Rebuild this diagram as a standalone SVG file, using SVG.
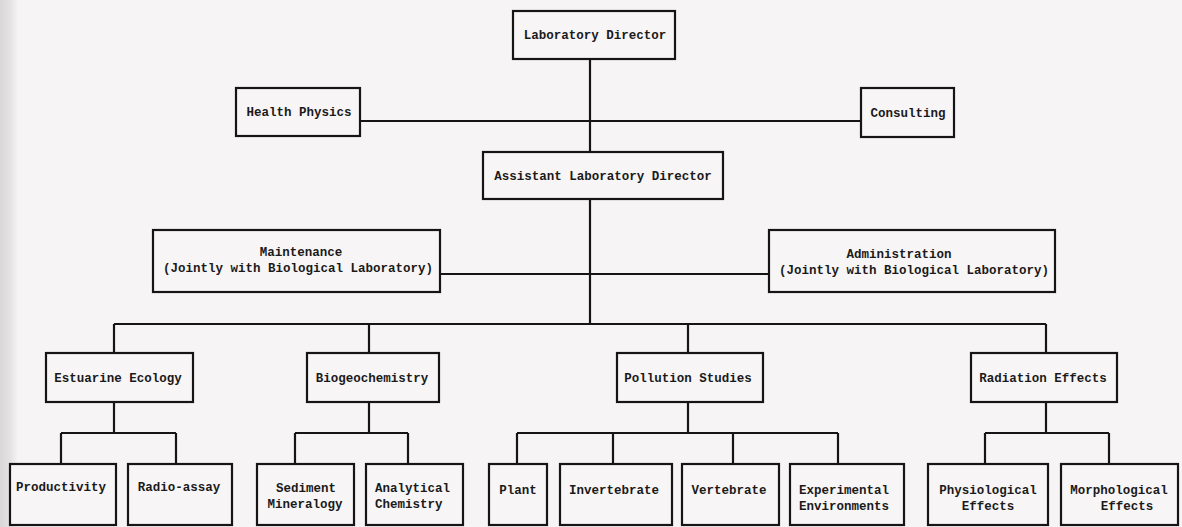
<svg xmlns="http://www.w3.org/2000/svg" width="1182" height="527" viewBox="0 0 1182 527">
<defs>
<linearGradient id="edge" x1="0" y1="0" x2="1" y2="0">
<stop offset="0" stop-color="#d9d7d8"/>
<stop offset="0.6" stop-color="#e6e3e4"/>
<stop offset="1" stop-color="#f7f4f5"/>
</linearGradient>
<style>
.box{fill:#f8f5f6;stroke:#151515;stroke-width:2.2}
.ln{fill:none;stroke:#151515;stroke-width:2.2}
text{font-family:"Liberation Mono","DejaVu Sans Mono",monospace;font-weight:bold;font-size:12.5px;fill:#1a1a1a}
.c{text-anchor:middle}
</style>
</defs>
<rect x="0" y="0" width="1182" height="527" fill="#f7f4f5"/>
<rect x="0" y="0" width="18" height="527" fill="url(#edge)"/>

<g id="connectors">
<path class="ln" d="M590 59 V152 M590 199 V324"/>
<path class="ln" d="M360 121 H861"/>
<path class="ln" d="M440 274 H769"/>
<path class="ln" d="M114 324 H1046 M114 324 V353 M369 324 V353 M688 324 V353 M1046 324 V353"/>
<path class="ln" d="M114 402 V433 M61 433 H176 M61 433 V464 M176 433 V464"/>
<path class="ln" d="M369 402 V433 M295 433 H408 M295 433 V464 M408 433 V464"/>
<path class="ln" d="M688 402 V433 M517 433 H838 M517 433 V464 M613 433 V464 M733 433 V464 M838 433 V464"/>
<path class="ln" d="M1046 402 V433 M985 433 H1109 M985 433 V464 M1109 433 V464"/>
</g>

<g id="lab-director"><rect class="box" x="513" y="11" width="162" height="48"/><text class="c" x="595" y="39">Laboratory Director</text></g>
<g id="health-physics"><rect class="box" x="236" y="88" width="124" height="48"/><text class="c" x="299" y="116">Health Physics</text></g>
<g id="consulting"><rect class="box" x="861" y="88" width="93" height="49"/><text class="c" x="908" y="117">Consulting</text></g>
<g id="assistant-director"><rect class="box" x="483" y="152" width="240" height="47"/><text class="c" x="603" y="180">Assistant Laboratory Director</text></g>
<g id="maintenance"><rect class="box" x="153" y="230" width="287" height="62"/><text class="c" x="301" y="256">Maintenance</text><text class="c" x="298" y="272">(Jointly with Biological Laboratory)</text></g>
<g id="administration"><rect class="box" x="769" y="230" width="286" height="62"/><text class="c" x="899" y="258">Administration</text><text class="c" x="914" y="274">(Jointly with Biological Laboratory)</text></g>

<g id="estuarine-ecology"><rect class="box" x="46" y="353" width="147" height="49"/><text class="c" x="118" y="382">Estuarine Ecology</text></g>
<g id="biogeochemistry"><rect class="box" x="307" y="353" width="132" height="49"/><text class="c" x="372" y="382">Biogeochemistry</text></g>
<g id="pollution-studies"><rect class="box" x="617" y="353" width="146" height="49"/><text class="c" x="688" y="382">Pollution Studies</text></g>
<g id="radiation-effects"><rect class="box" x="971" y="353" width="146" height="49"/><text class="c" x="1043" y="382">Radiation Effects</text></g>

<g id="productivity"><rect class="box" x="10" y="464" width="106" height="61"/><text class="c" x="61" y="491">Productivity</text></g>
<g id="radio-assay"><rect class="box" x="128" y="464" width="104" height="61"/><text class="c" x="179" y="491">Radio-assay</text></g>
<g id="sediment-mineralogy"><rect class="box" x="257" y="464" width="97" height="61"/><text class="c" x="306" y="492">Sediment</text><text class="c" x="305" y="508">Mineralogy</text></g>
<g id="analytical-chemistry"><rect class="box" x="366" y="464" width="97" height="61"/><text x="375" y="492">Analytical</text><text x="375" y="508">Chemistry</text></g>
<g id="plant"><rect class="box" x="489" y="464" width="58" height="61"/><text class="c" x="518" y="494">Plant</text></g>
<g id="invertebrate"><rect class="box" x="560" y="464" width="112" height="61"/><text class="c" x="614" y="494">Invertebrate</text></g>
<g id="vertebrate"><rect class="box" x="682" y="464" width="97" height="61"/><text class="c" x="729" y="494">Vertebrate</text></g>
<g id="experimental-environments"><rect class="box" x="790" y="464" width="114" height="61"/><text x="799" y="494">Experimental</text><text x="799" y="510">Environments</text></g>
<g id="physiological-effects"><rect class="box" x="928" y="464" width="120" height="61"/><text class="c" x="988" y="494">Physiological</text><text class="c" x="988" y="510">Effects</text></g>
<g id="morphological-effects"><rect class="box" x="1061" y="464" width="117" height="61"/><text class="c" x="1119" y="494">Morphological</text><text class="c" x="1127" y="510">Effects</text></g>
</svg>
